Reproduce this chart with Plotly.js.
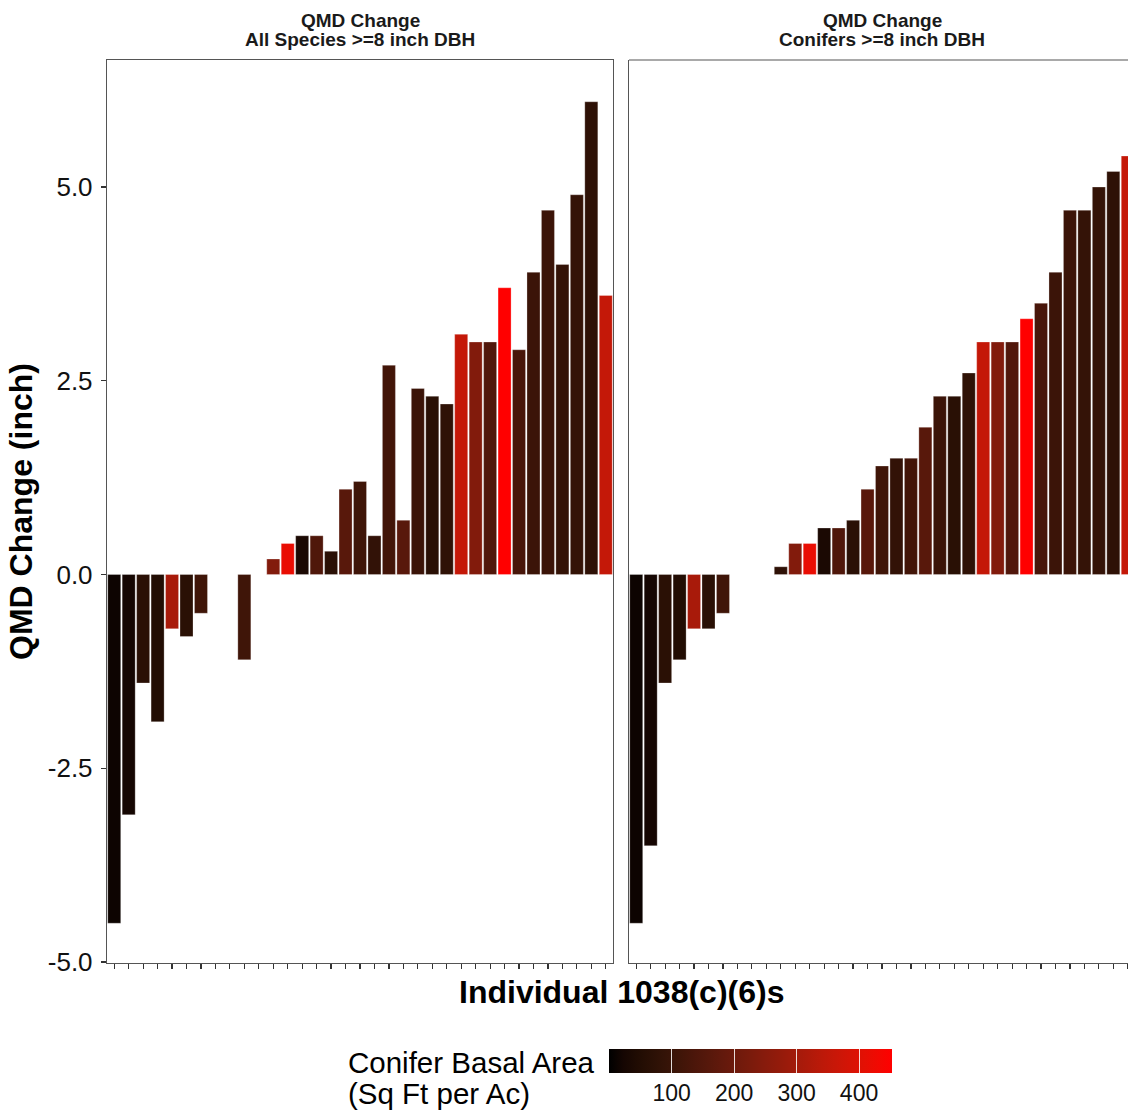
<!DOCTYPE html>
<html>
<head>
<meta charset="utf-8">
<script src="https://cdn.plot.ly/plotly-3.0.1.min.js"></script>
<style>
  html, body { margin: 0; padding: 0; background: #ffffff; overflow: hidden; }
  #chart { width: 1128px; height: 1111px; }
</style>
</head>
<body>
<div id="chart"></div>
<script>
// ---- data ----
const stands = [1,2,3,4,5,6,7,8,9,10,11,12,13,14,15,16,17,18,19,20,21,22,23,24,25,26,27,28,29,30,31,32,33,34,35];
const allSpeciesChange = [-4.5,-3.1,-1.4,-1.9,-0.7,-0.8,-0.5,null,null,-1.1,null,0.2,0.4,0.5,0.5,0.3,1.1,1.2,0.5,2.7,0.7,2.4,2.3,2.2,3.1,3.0,3.0,3.7,2.9,3.9,4.7,4.0,4.9,6.1,3.6];
const coniferChange = [-4.5,-3.5,-1.4,-1.1,-0.7,-0.7,-0.5,null,null,null,0.1,0.4,0.4,0.6,0.6,0.7,1.1,1.4,1.5,1.5,1.9,2.3,2.3,2.6,3.0,3.0,3.0,3.3,3.5,3.9,4.7,4.7,5.0,5.2,5.4];
const coniferBasalArea = [14,23,68,50,308,68,113,null,null,113,78,240,417,34,145,68,163,113,85,118,163,104,66,80,355,240,148,453,131,104,104,90,90,78,355];
const yTickVals = [-5,-2.5,0,2.5,5];
const yTickText = ["-5.0","-2.5","0.0","2.5","5.0"];
const cbTickVals = [100,200,300,400];
const cbTickText = ["100","200","300","400"];
const panelTitles = [["QMD Change","All Species >=8 inch DBH"],["QMD Change","Conifers >=8 inch DBH"]];

// ---- black -> red gradient interpolated in CIELAB (like scale_fill_gradient) ----
function lin(c){ c/=255; return c<=0.04045? c/12.92 : Math.pow((c+0.055)/1.055,2.4); }
function gam(c){ c = c<=0.0031308? 12.92*c : 1.055*Math.pow(c,1/2.4)-0.055; return Math.max(0,Math.min(255,Math.round(c*255))); }
function rgb2lab(r,g,b){
  const R=lin(r),G=lin(g),B=lin(b);
  let X=(0.4124*R+0.3576*G+0.1805*B)/0.95047, Y=(0.2126*R+0.7152*G+0.0722*B), Z=(0.0193*R+0.1192*G+0.9505*B)/1.08883;
  const f=t=> t>0.008856? Math.cbrt(t) : 7.787*t+16/116;
  const fx=f(X),fy=f(Y),fz=f(Z);
  return [116*fy-16, 500*(fx-fy), 200*(fy-fz)];
}
function lab2rgb(L,a,b){
  const fy=(L+16)/116, fx=fy+a/500, fz=fy-b/200;
  const fi=t=> t*t*t>0.008856? t*t*t : (t-16/116)/7.787;
  const X=0.95047*fi(fx), Y=fi(fy), Z=1.08883*fi(fz);
  const R= 3.2406*X-1.5372*Y-0.4986*Z, G=-0.9689*X+1.8758*Y+0.0415*Z, B=0.0557*X-0.2040*Y+1.0570*Z;
  return 'rgb('+gam(R)+','+gam(G)+','+gam(B)+')';
}
const lowLab = rgb2lab(0,0,0), highLab = rgb2lab(255,0,0);
const colorscale = [];
for (let i=0;i<=20;i++){
  const t=i/20;
  colorscale.push([t, lab2rgb(lowLab[0]+t*(highLab[0]-lowLab[0]), lowLab[1]+t*(highLab[1]-lowLab[1]), lowLab[2]+t*(highLab[2]-lowLab[2]))]);
}

// ---- geometry ----
const W=1128, H=1111;
const mL=107, mR=0, mT=60, mB=148;
const pw=W-mL-mR, ph=H-mT-mB;
const leftEnd=613, rightStart=629;
const slot=(leftEnd-mL)/35;
const rightRangeEnd = 0.5 + (W-rightStart)/slot;

const FONT='Liberation Sans, Arial, sans-serif';

const barCommon = {
  type:'bar', width:0.9,
  marker:{ color:coniferBasalArea, colorscale:colorscale, cmin:0, cmax:453,
           line:{color:'rgba(255,255,255,0.45)', width:0.6} },
  hoverinfo:'x+y'
};

const traceA = Object.assign({}, barCommon, {
  x:stands, y:allSpeciesChange, xaxis:'x', yaxis:'y',
  marker:Object.assign({}, barCommon.marker, {
    showscale:true,
    colorbar:{
      orientation:'h', xref:'container', yref:'container',
      x:673/W, xanchor:'left', y:1-1049/H, yanchor:'top',
      len:283, lenmode:'pixels', thickness:24, thicknessmode:'pixels',
      xpad:0, ypad:0, outlinewidth:0, borderwidth:0,
      tickvals:cbTickVals, ticktext:cbTickText,
      ticks:'inside', ticklen:24, tickwidth:1, tickcolor:'rgba(255,255,255,0.85)',
      tickfont:{family:FONT, size:23, color:'#111'}
    }
  })
});
const traceB = Object.assign({}, barCommon, {
  x:stands, y:coniferChange, xaxis:'x2', yaxis:'y2',
  marker:Object.assign({}, barCommon.marker, {showscale:false})
});

const axLine='#555', tickCol='#333';
const yRange=[-5.013, 6.639];

const annotations = [];
const centers=[(mL+leftEnd)/2, (rightStart+rightStart+35*slot)/2];
panelTitles.forEach((lines,k)=>{
  lines.forEach((txt,j)=>{
    const py = 20 + 20*j;
    annotations.push({text:'<b>'+txt+'</b>', xref:'paper', yref:'paper',
      x:(centers[k]-mL)/pw, y:(H-mB-py)/ph, xanchor:'center', yanchor:'middle',
      showarrow:false, font:{family:FONT, size:19, color:'#1a1a1a'}});
  });
});

annotations.push({text:'<b>Individual 1038(c)(6)s</b>', xref:'paper', yref:'paper',
  x:(621-mL)/pw, y:(H-mB-992)/ph, xanchor:'center', yanchor:'middle', showarrow:false,
  font:{family:FONT, size:32, color:'#000'}});
annotations.push({text:'Conifer Basal Area', xref:'paper', yref:'paper',
  x:(346-mL)/pw, y:(H-mB-1062)/ph, xanchor:'left', yanchor:'middle', showarrow:false,
  font:{family:FONT, size:29.5, color:'#000'}});
annotations.push({text:'(Sq Ft per Ac)', xref:'paper', yref:'paper',
  x:(346-mL)/pw, y:(H-mB-1093)/ph, xanchor:'left', yanchor:'middle', showarrow:false,
  font:{family:FONT, size:29.5, color:'#000'}});

const layout = {
  width:W, height:H,
  margin:{l:mL, r:mR, t:mT, b:mB, pad:0},
  paper_bgcolor:'#fff', plot_bgcolor:'#fff',
  showlegend:false, bargap:0,
  font:{family:FONT, color:'#111'},
  xaxis:{domain:[0,(leftEnd-mL)/pw], range:[0.5,35.5], showgrid:false, zeroline:false,
         tickvals:stands, showticklabels:false, ticks:'outside', ticklen:5, tickwidth:1.2, tickcolor:tickCol,
         showline:true, mirror:true, linecolor:axLine, linewidth:1.2, fixedrange:true},
  xaxis2:{domain:[(rightStart-mL)/pw,1], range:[0.5,rightRangeEnd], showgrid:false, zeroline:false,
         tickvals:stands, showticklabels:false, ticks:'outside', ticklen:5, tickwidth:1.2, tickcolor:tickCol,
         showline:true, mirror:false, linecolor:axLine, linewidth:1.2, anchor:'y2', fixedrange:true},
  yaxis:{range:yRange, showgrid:false, zeroline:false, tickvals:yTickVals, ticktext:yTickText,
         ticks:'outside', ticklen:5, tickwidth:1.2, tickcolor:tickCol, ticklabelstandoff:3,
         tickfont:{family:FONT, size:26, color:'#111'},
         showline:true, mirror:true, linecolor:axLine, linewidth:1.2,
         title:{text:'<b>QMD Change (inch)</b>', font:{family:FONT, size:32, color:'#000'}, standoff:5}},
  yaxis2:{range:yRange, matches:'y', anchor:'x2', showgrid:false, zeroline:false, showticklabels:false,
          ticks:'', showline:true, mirror:false, linecolor:axLine, linewidth:1.2},
  shapes:[{type:'line', xref:'x2 domain', yref:'paper', x0:0, x1:1, y0:1, y1:1,
           line:{color:axLine, width:1.2}}],
  annotations:annotations
};

Plotly.newPlot('chart', [traceA, traceB], layout, {displayModeBar:false, staticPlot:true});
</script>
</body>
</html>
